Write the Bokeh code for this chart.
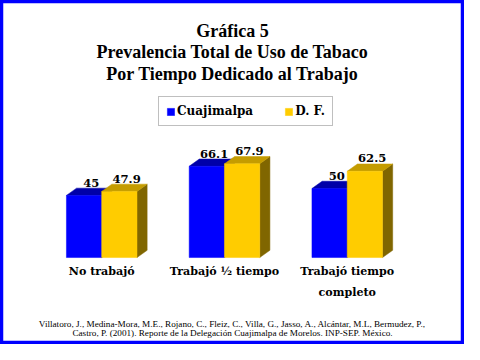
from bokeh.plotting import figure
from bokeh.models import Range1d, Legend, LegendItem, ColumnDataSource
from bokeh.core.properties import value
from bokeh.embed import file_html
from bokeh.resources import INLINE

# ---------------- data ----------------
categories = ["No trabajó", "Trabajó ½ tiempo", "Trabajó tiempo\ncompleto"]
series_names = ["Cuajimalpa", "D. F."]
cuajimalpa = [45, 66.1, 50]
df_values = [47.9, 67.9, 62.5]
title_lines = ["Gráfica 5",
               "Prevalencia Total de Uso de Tabaco",
               "Por Tiempo Dedicado al Trabajo"]
source_lines = ["Villatoro, J., Medina-Mora, M.E., Rojano, C., Fleiz, C., Villa, G., Jasso, A., Alcántar, M.L, Bermudez, P.,",
                "Castro, P. (2001). Reporte de la Delegación Cuajimalpa de Morelos. INP-SEP. México."]

# ---------------- layout (reference pixels -> data space) ----------------
W, H = 464, 344
REF_W, REF_H = 480, 360
S = W / REF_W
GROUP0_PX, GROUP_STEP_PX = 104.7, 127.0
BASE_PX, PX_PER_UNIT = 269.0, 1.445


def rx(px):
    return (px - GROUP0_PX) / GROUP_STEP_PX


def ry(py):
    return (BASE_PX - py) / PX_PER_UNIT


def fs(px):
    return f"{px * S:.1f}px"


bar_w = 36.5 / GROUP_STEP_PX
dx = 10.5 / GROUP_STEP_PX
dy = 7.6 / PX_PER_UNIT
label_dx = 7.5 / GROUP_STEP_PX

styles = [
    dict(front="#0000FF", top="#0000A8", side="#000080", offset=-bar_w / 2),
    dict(front="#FFCC00", top="#C49C00", side="#806600", offset=bar_w / 2),
]

p = figure(width=W, height=H, output_backend="svg", toolbar_location=None,
           x_range=Range1d(rx(0), rx(REF_W)), y_range=Range1d(ry(REF_H), ry(0)),
           x_axis_type=None, y_axis_type=None, title=None,
           min_border=0, min_border_left=0, min_border_right=0,
           min_border_top=0, min_border_bottom=0)
p.grid.visible = False
p.background_fill_color = "white"
p.border_fill_color = "white"
p.outline_line_color = "#0000FF"
p.outline_line_width = 5.5

fronts = []
for vals, st in zip([cuajimalpa, df_values], styles):
    xc = [i + st["offset"] for i in range(len(categories))]
    xl = [x - bar_w / 2 for x in xc]
    xr = [x + bar_w / 2 for x in xc]
    # side faces
    p.patches(xs=[[r, r, r + dx, r + dx] for r in xr],
              ys=[[0, v, v + dy, dy] for v in vals],
              fill_color=st["side"], line_color=st["side"], line_width=0.5)
    # top faces
    p.patches(xs=[[l, r, r + dx, l + dx] for l, r in zip(xl, xr)],
              ys=[[v, v, v + dy, v + dy] for v in vals],
              fill_color=st["top"], line_color=st["top"], line_width=0.5)
    # front faces
    fr = p.vbar(x=xc, top=vals, bottom=0, width=bar_w,
                fill_color=st["front"], line_color=st["front"], line_width=0.5)
    fronts.append(fr)
    # value labels
    src = ColumnDataSource(dict(x=[x + label_dx for x in xc],
                                y=[v + dy for v in vals],
                                t=[f"{v:g}" for v in vals]))
    p.text(x="x", y="y", text="t", source=src, text_align="center",
           text_baseline="alphabetic", y_offset=-5.5,
           text_font=value("DejaVu Serif"), text_font_style="bold",
           text_font_size=fs(12), text_color="black")

# category labels
p.text(x=list(range(len(categories))), y=[ry(276.5)] * len(categories),
       text=categories, text_align="center", text_baseline="top",
       text_font=value("DejaVu Serif"), text_font_style="bold",
       text_font_size=fs(11.5), text_line_height=1.65, text_color="black")

# title
p.text(x=[rx(240)] * 3, y=[ry(31.7), ry(54.3), ry(77.3)], text=title_lines,
       text_align="center", text_baseline="middle",
       text_font=value("Liberation Serif"), text_font_style="bold",
       text_font_size=fs(18.6), text_color="black")

# source
p.text(x=[rx(240)] * 2, y=[ry(338.3), ry(348.3)], text=source_lines,
       text_align="center", text_baseline="middle",
       text_font=value("Liberation Serif"), text_font_size=fs(9.5),
       text_color="black")

legend = Legend(items=[LegendItem(label=series_names[0], renderers=[fronts[0]]),
                       LegendItem(label=series_names[1], renderers=[fronts[1]])],
                orientation="horizontal", location=(round(163.3 * S), round(H - 132.3 * H / REF_H)),
                glyph_width=9, glyph_height=9, label_standoff=2, spacing=31,
                padding=7, label_height=12, margin=0,
                label_text_font="DejaVu Serif", label_text_font_style="bold",
                label_text_font_size="12px", label_text_color="black",
                border_line_color="#808080", border_line_width=1,
                background_fill_color="white", background_fill_alpha=1)
p.add_layout(legend)

open("out.html", "w").write(file_html(p, INLINE))
